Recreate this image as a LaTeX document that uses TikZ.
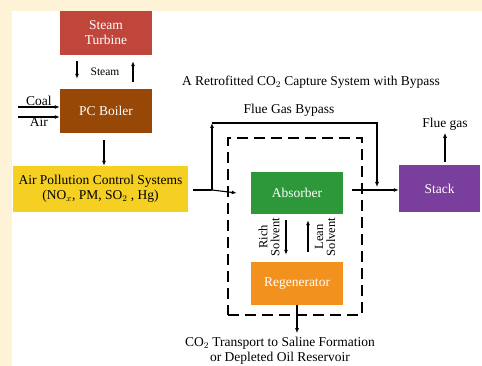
\documentclass[tikz,border=0pt]{standalone}
\usepackage{fontspec}
\setmainfont{Liberation Serif}
\definecolor{cream}{RGB}{254,243,214}
\definecolor{turbine}{RGB}{192,70,60}
\definecolor{boiler}{RGB}{151,72,7}
\definecolor{apcyel}{RGB}{245,208,35}
\definecolor{absgreen}{RGB}{44,152,58}
\definecolor{regorange}{RGB}{242,145,30}
\definecolor{stackpur}{RGB}{122,62,156}
\usepackage{tikz}
\usetikzlibrary{arrows.meta,calc}

\begin{document}
\begin{tikzpicture}[x=1pt,y=-1pt,
    unit/.style={minimum width=92pt,minimum height=44pt,inner sep=0pt,
      text=white,align=center,font=\fontsize{13.5}{15}\selectfont},
    arr/.style={-{Latex[length=5pt,width=4pt]},line width=1.1pt},
    lbl/.style={font=\fontsize{13.5}{15}\selectfont,align=center},
    small/.style={font=\fontsize{11.5}{12}\selectfont,align=center}]
  % frame
  \fill[cream] (0,0) rectangle (482,366);
  \useasboundingbox (0,0) rectangle (482,366);
  \fill[white] (12,11) rectangle (482,366);
  % plant side
  \node[unit,fill=turbine] (turb) at (106,33) {Steam\\Turbine};
  \node[unit,fill=boiler] (boiler) at (106,111) {PC Boiler};
  \node[unit,fill=apcyel,text=black,minimum width=175pt,minimum height=46pt]
    (apc) at (100.5,189) {Air Pollution Control Systems\\(NO$_x$, PM, SO$_2$ , Hg)};
  \draw[arr] ($(turb.south)+(-29,6)$) -- ($(boiler.north)+(-29,-10)$);
  \draw[arr] ($(boiler.north)+(27,-7)$) -- ($(turb.south)+(27,6)$);
  \node[small] (steamlbl) at (105,72) {Steam};
  \coordinate (coalin) at (18,107);
  \coordinate (airin) at (18,117);
  \draw[arr] (coalin) -- (coalin -| boiler.west) node[midway,above,lbl,inner sep=0.5pt]{Coal};
  \draw[arr] (airin) -- (airin -| boiler.west) node[midway,below,lbl,inner sep=0pt]{Air};
  \draw[arr] ($(boiler.south)+(-2,7)$) -- ($(apc.north)+(3.5,0)$);
  % capture system
  \node[lbl] (title) at (311,82) {A Retrofitted CO$_2$ Capture System with Bypass};
  \node[draw,line width=1.8pt,dash pattern=on 11pt off 6pt,minimum width=134pt,
    minimum height=177pt] (capbox) at (295,226.5) {};
  \node[unit,fill=absgreen,minimum height=42pt] (absorber) at (297,193) {Absorber};
  \node[unit,fill=regorange,minimum height=43pt] (regen) at (297,283.5) {Regenerator};
  \node[unit,fill=stackpur,minimum width=81pt,minimum height=47pt] (stack) at (439.5,188.5) {Stack};
  \coordinate (split) at (212,190);
  \coordinate (bypassL) at (212,123);
  \coordinate (bypassR) at (377,123);
  \coordinate (join) at (377,190);
  \draw[line width=1.1pt] ($(apc.east)+(5,1)$) -- (split);
  \draw[arr] (split) -- ($(absorber.west)+(-14,0)$);
  \draw[arr] (split) -- (bypassL);
  \draw[arr] (bypassL) -- (bypassR) -- ($(join)+(0,-3)$);
  \node[lbl] (bypasslbl) at (289,110) {Flue Gas Bypass};
  \draw[arr] ($(absorber.east)+(9,-3)$) -- ($(stack.west)+(0,1.5)$);
  \draw[arr] ($(stack.north)+(5.5,-3)$) -- ($(stack.north)+(5.5,-32)$) coordinate (fluetop);
  \node[lbl,above,inner sep=2pt] (fluelbl) at (fluetop) {Flue gas};
  \draw[arr] ($(absorber.south)+(-11,6)$) -- ($(regen.north)+(-11,-7)$);
  \draw[arr] ($(regen.north)+(11,-10)$) -- ($(absorber.south)+(11,6)$);
  \node[small,rotate=90,font=\fontsize{12.5}{12}\selectfont] (rich) at (269,237) {Rich\\Solvent};
  \node[small,rotate=90,font=\fontsize{12.5}{12}\selectfont] (lean) at (325,237) {Lean\\Solvent};
  \draw[arr] (regen.south) -- ($(regen.south)+(0,28)$) coordinate (co2out);
  \node[lbl,below,inner sep=2pt] (co2lbl) at ($(co2out)+(-17,2)$)
    {CO$_2$ Transport to Saline Formation\\or Depleted Oil Reservoir};
\end{tikzpicture}
\end{document}
